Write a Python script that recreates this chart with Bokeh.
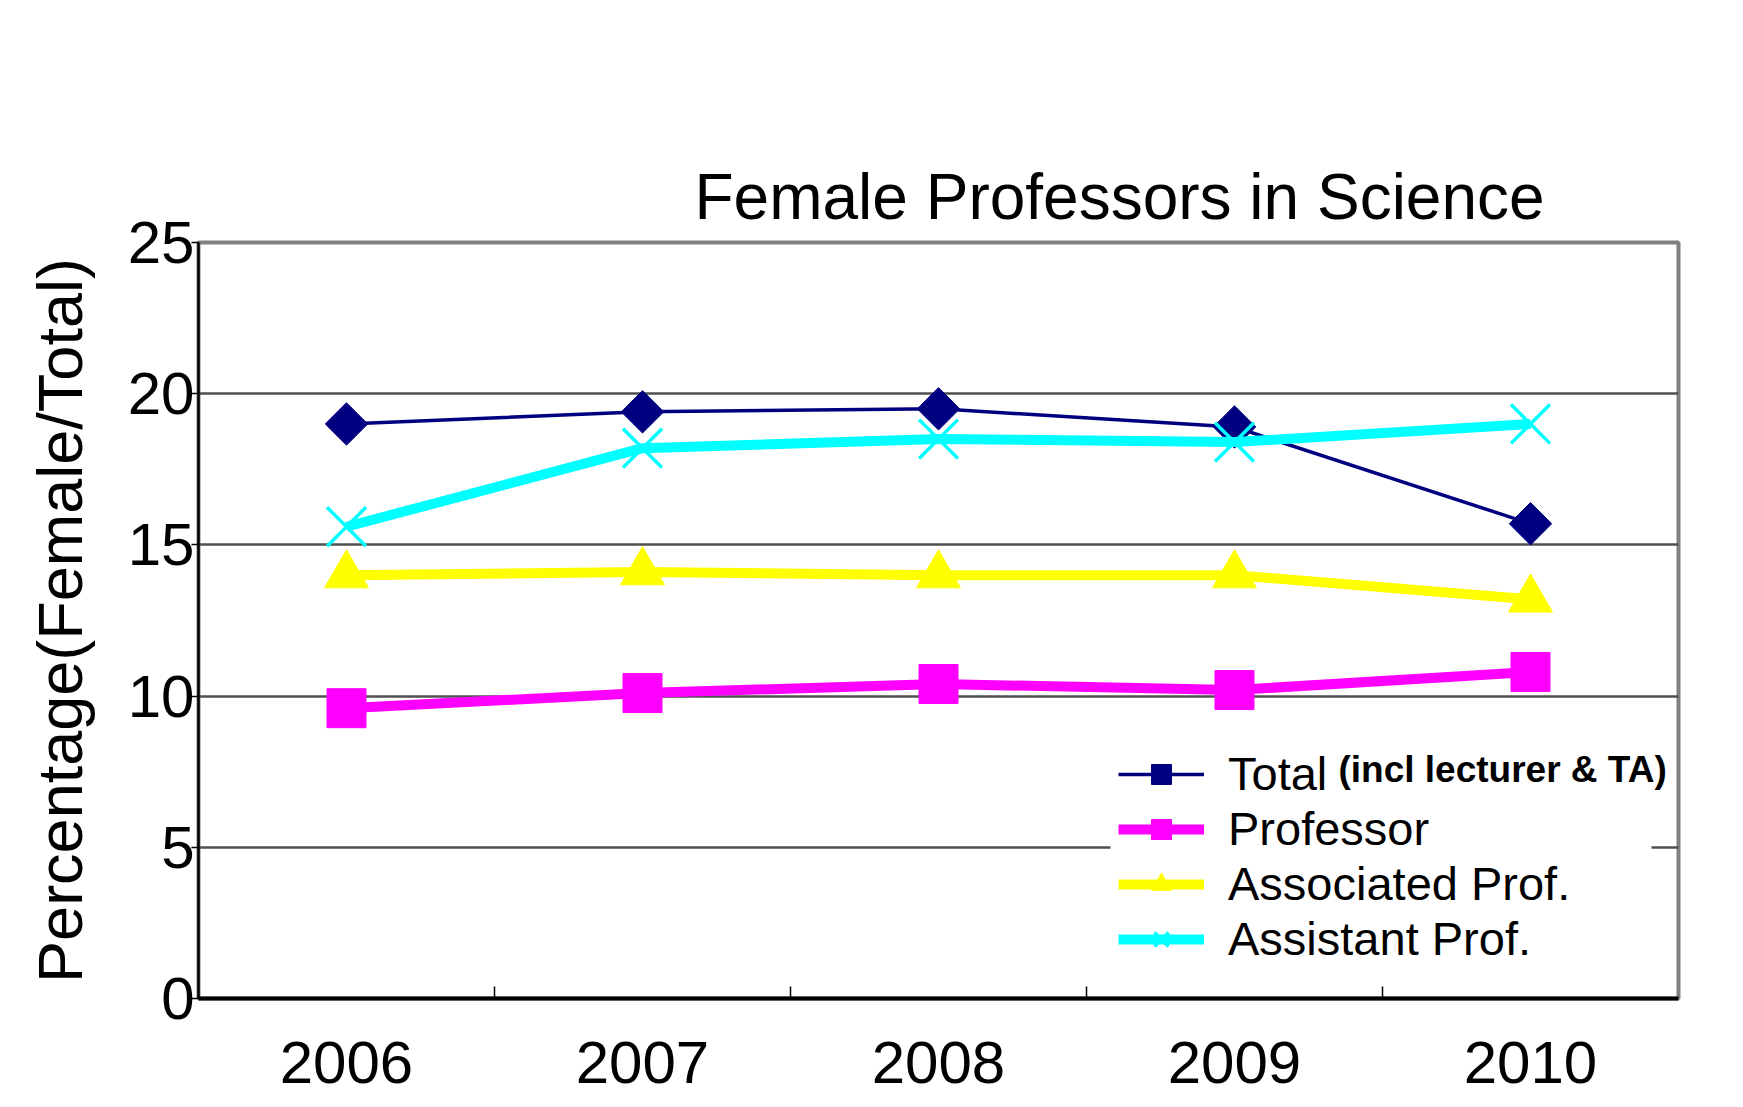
import math
from bokeh.plotting import figure
from bokeh.models import Range1d, FixedTicker, Legend, LegendItem, Label, BoxAnnotation
from bokeh.embed import file_html
from bokeh.resources import INLINE

# ---- data ----
years = [2006, 2007, 2008, 2009, 2010]
total = [19.0, 19.4, 19.5, 18.9, 15.7]
professor = [9.6, 10.1, 10.4, 10.2, 10.8]
associated = [14.0, 14.1, 14.0, 14.0, 13.2]
assistant = [15.6, 18.2, 18.5, 18.4, 19.0]
y_ticks = [0, 5, 10, 15, 20, 25]
year_labels = ["2006", "2007", "2008", "2009", "2010"]
series_names = ["Total", "Professor", "Associated Prof.", "Assistant Prof."]
total_note = "(incl lecturer & TA)"
title_text = "Female Professors in Science"
y_label = "Percentage(Female/Total)"

FONT = "Liberation Sans"

p = figure(width=1743, height=1107, output_backend="svg", toolbar_location=None,
           x_range=Range1d(years[0] - 0.5, years[-1] + 0.5), y_range=Range1d(0, 25),
           min_border_left=198, min_border_right=65, min_border_top=242, min_border_bottom=109)

p.background_fill_color = "white"
p.border_fill_color = "white"
p.outline_line_color = "#808080"
p.outline_line_width = 4

# title
p.title.text = title_text
p.title.text_font = FONT
p.title.text_font_size = "64px"
p.title.text_font_style = "normal"
p.title.text_color = "black"
p.title.align = "left"
p.title.offset = 496
p.title.standoff = 20

# x axis
xa = p.xaxis[0]
boundaries = [y + 0.5 for y in years[:-1]]
xa.ticker = FixedTicker(ticks=years, minor_ticks=boundaries)
xa.major_label_overrides = {y: lab for y, lab in zip(years, year_labels)}
xa.major_tick_in = 0
xa.major_tick_out = 0
xa.minor_tick_in = 12
xa.minor_tick_out = 0
xa.minor_tick_line_color = "black"
xa.minor_tick_line_width = 1.5
xa.axis_line_color = "black"
xa.axis_line_width = 4
xa.major_label_text_font = FONT
xa.major_label_text_font_size = "60px"
xa.major_label_text_color = "black"
xa.major_label_standoff = 43

# y axis
ya = p.yaxis[0]
ya.ticker = FixedTicker(ticks=y_ticks, minor_ticks=[])
ya.major_tick_in = 0
ya.major_tick_out = 7
ya.major_tick_line_width = 1.5
ya.axis_line_color = "black"
ya.axis_line_width = 2.5
ya.major_label_text_font = FONT
ya.major_label_text_font_size = "60px"
ya.major_label_text_color = "black"
ya.major_label_standoff = -3
ya.axis_label = y_label
ya.axis_label_text_font = FONT
ya.axis_label_text_font_size = "63px"
ya.axis_label_text_font_style = "normal"
ya.axis_label_text_color = "black"
ya.axis_label_standoff = 30

# grid
p.xgrid.grid_line_color = None
p.ygrid.ticker = FixedTicker(ticks=y_ticks[1:-1])
p.ygrid.grid_line_color = "#505050"
p.ygrid.grid_line_width = 2.5

# white backing behind the legend block (hides the 5% grid line there)
backing = BoxAnnotation(left=912, right=1453, bottom=24, top=260,
                        left_units="screen", right_units="screen",
                        bottom_units="screen", top_units="screen",
                        fill_color="white", fill_alpha=1.0, line_color=None,
                        level="underlay")
p.add_layout(backing)

# series
l1 = p.line(years, total, line_color="#000080", line_width=3.5)
m1 = p.scatter(years, total, marker="square", angle=math.pi / 4, size=30,
               fill_color="#000080", line_color="#000080")
l2 = p.line(years, professor, line_color="#ff00ff", line_width=10)
m2 = p.scatter(years, professor, marker="square", size=39,
               fill_color="#ff00ff", line_color="#ff00ff")
l3 = p.line(years, associated, line_color="#ffff00", line_width=10)
m3 = p.scatter(years, associated, marker="triangle", size=44,
               fill_color="#ffff00", line_color="#ffff00")
l4 = p.line(years, assistant, line_color="#00ffff", line_width=10)
m4 = p.scatter(years, assistant, marker="x", size=55,
               line_color="#00ffff", line_width=3.5)

legend = Legend(items=[
    LegendItem(label=series_names[0], renderers=[l1, m1]),
    LegendItem(label=series_names[1], renderers=[l2, m2]),
    LegendItem(label=series_names[2], renderers=[l3, m3]),
    LegendItem(label=series_names[3], renderers=[l4, m4]),
], location=(920, 32))
legend.border_line_color = None
legend.background_fill_alpha = 0.0
legend.padding = 8
legend.margin = 0
legend.glyph_width = 86
legend.glyph_height = 50
legend.label_height = 50
legend.label_standoff = 24
legend.spacing = 0
legend.label_text_font = FONT
legend.label_text_font_size = "47px"
legend.label_text_color = "black"
p.add_layout(legend)

note = Label(x=1140, y=229, x_units="screen", y_units="screen", text=total_note,
             text_font=FONT, text_font_size="37px", text_font_style="bold",
             text_baseline="middle", text_align="left", text_color="black")
p.add_layout(note)

open("out.html", "w").write(file_html(p, INLINE))
